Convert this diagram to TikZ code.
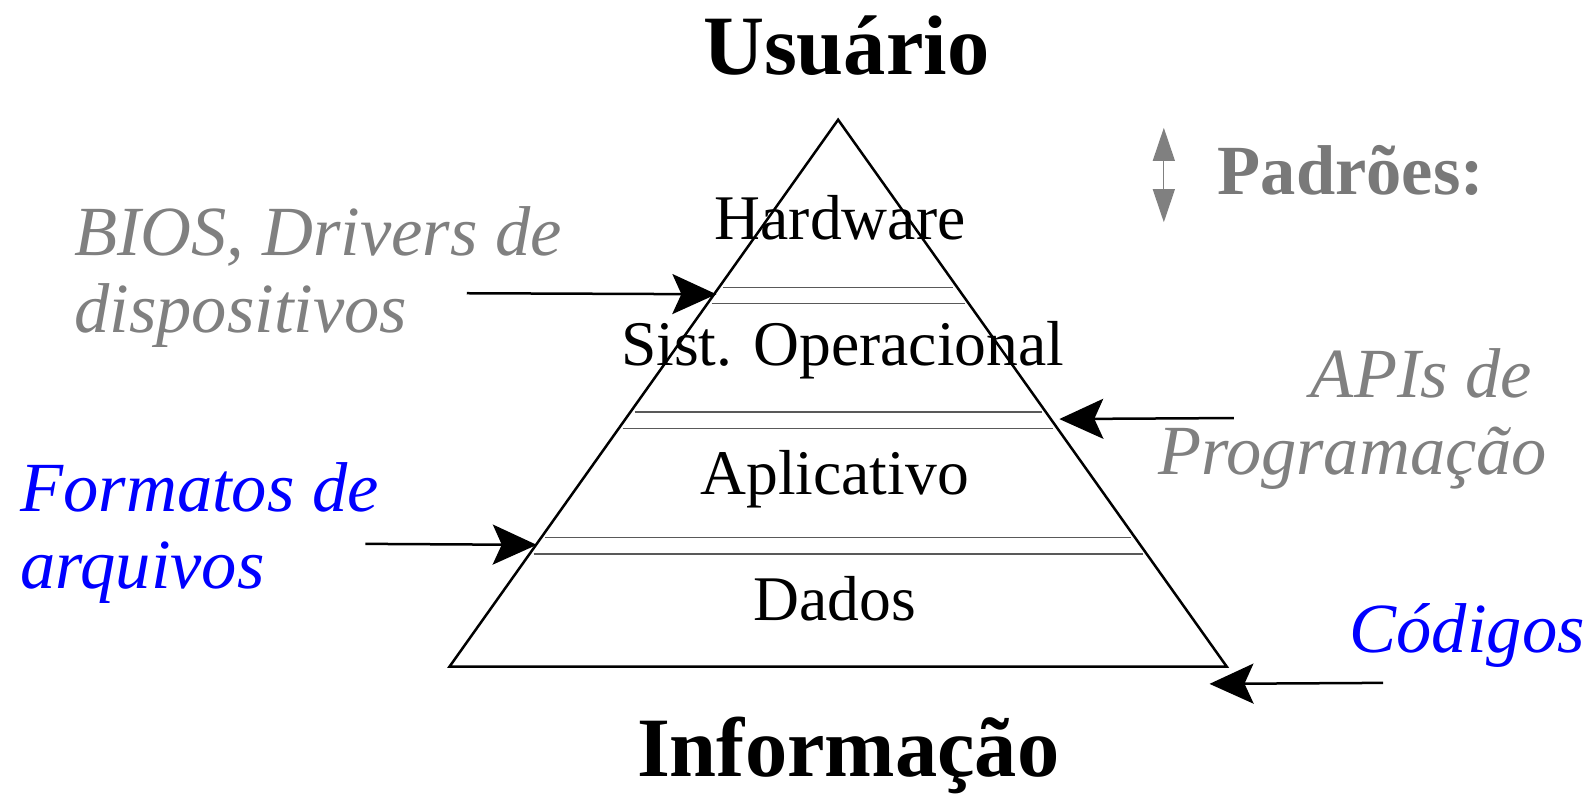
\documentclass[tikz,border=0pt]{standalone}
\usepackage{fontspec}
\setmainfont{Liberation Serif}
\usepackage{tikz}
\usetikzlibrary{arrows.meta}

\begin{document}
\begin{tikzpicture}[x=1.01467pt,y=-1.01467pt,
    layer/.style={font=\fontsize{63.6}{70}\selectfont,inner sep=0pt},
    note/.style={font=\fontsize{70.5}{77}\selectfont\itshape,inner sep=0pt},
    title/.style={font=\fontsize{84.5}{90}\selectfont\bfseries,inner sep=0pt},
    pointer/.style={line width=2.5pt,-{Stealth[length=44pt,width=40pt,inset=9pt]}}]
  \useasboundingbox (0,0) rectangle (1568,782);

  % pyramid
  \coordinate (top) at (826,118);
  \coordinate (left) at (443,657);
  \coordinate (right) at (1209,657);
  \draw[line width=2.5pt,line join=miter] (top) -- (left) -- (right) -- cycle;
  \foreach \y in {283,299,406,422,530,546}{
    \pgfmathsetmacro{\hw}{0.7106*(\y-118)-4}
    \draw[line width=1.2pt,gray!70!black] (826-\hw,\y) -- (826+\hw,\y);
  }

  \node[title,anchor=base] (usuario) at (834,73) {Usuário};
  \node[title,anchor=base] (informacao) at (836,765) {Informação};

  \node[layer,anchor=base] (hardware) at (828,236) {Hardware};
  \node[layer,anchor=base] (so) at (830.5,360) {Sist. Operacional};
  \node[layer,anchor=base] (aplicativo) at (822.5,487) {Aplicativo};
  \node[layer,anchor=base] (dados) at (823,612) {Dados};

  % labels
  \node[note,text=gray,align=left,anchor=base west] (bios) at (73,328) {BIOS, Drivers de\\dispositivos};
  \node[note,text=gray,align=right,anchor=base east] (apis) at (1525,468) {APIs de\kern15pt\\Programação};
  \node[note,text=blue,align=left,anchor=base west] (formatos) at (20,580) {Formatos de\\arquivos};
  \node[note,text=blue,anchor=base west] (codigos) at (1330,643) {Códigos};
  \node[font=\fontsize{70.5}{77}\selectfont\bfseries,text=gray!95!black,inner sep=0pt,anchor=base west] (padroes) at (1200,192) {Padrões:};

  \coordinate (biosA) at (460,289);
  \coordinate (biosB) at (706,290);
  \coordinate (apisA) at (1216,412);
  \coordinate (apisB) at (1044,413);
  \coordinate (formA) at (360,536);
  \coordinate (formB) at (529,537);
  \coordinate (codA) at (1363,673);
  \coordinate (codB) at (1192,674);
  \draw[pointer] (biosA) -- (biosB);
  \draw[pointer] (apisA) -- (apisB);
  \draw[pointer] (formA) -- (formB);
  \draw[pointer] (codA) -- (codB);

  \coordinate (upA) at (1147,126);
  \coordinate (upB) at (1147,219);
  \draw[gray,line width=1.2pt,{Triangle[length=33pt,width=22pt]}-{Triangle[length=33pt,width=22pt]}] (upA) -- (upB);
\end{tikzpicture}
\end{document}
